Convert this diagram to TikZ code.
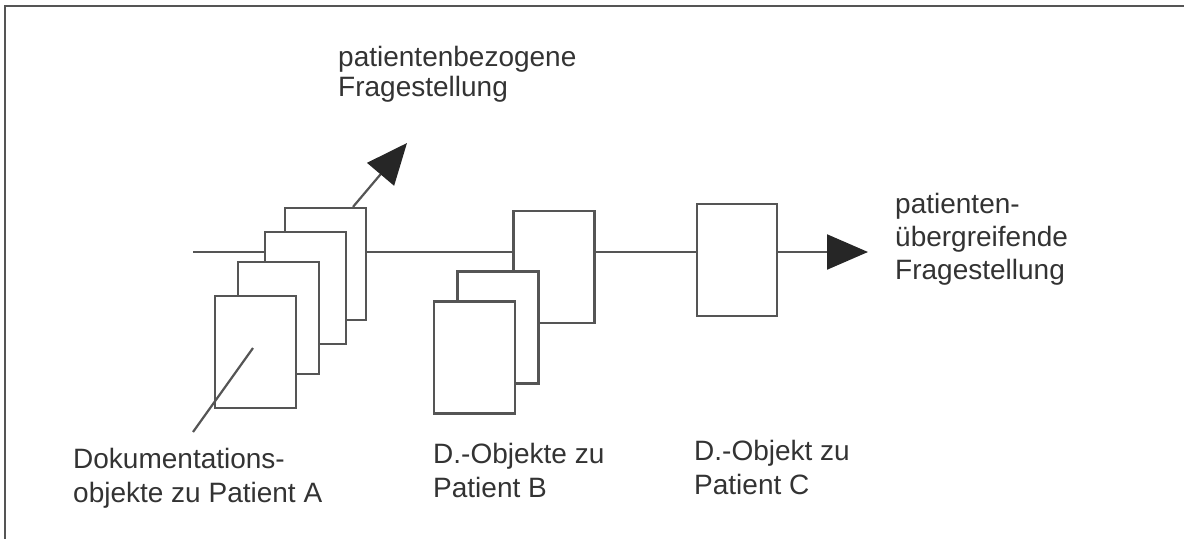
\documentclass[tikz,border=0pt]{standalone}
\usepackage{fontspec}
\setmainfont{Liberation Sans}
\usetikzlibrary{arrows.meta,calc}
\definecolor{linegray}{HTML}{555555}
\definecolor{textgray}{HTML}{333333}
\definecolor{headgray}{HTML}{262626}
\begin{document}
\begin{tikzpicture}[x=1pt,y=-1pt,
  doc/.style={draw=linegray, line width=2.2pt, fill=white, minimum width=81pt, minimum height=112pt, inner sep=0pt},
  conn/.style={draw=linegray, line width=2.2pt},
  bigarrow/.style={conn, -{Triangle[length=41pt,width=35pt,color=headgray,fill=headgray]}},
  lbl/.style={anchor=base west, inner sep=0pt, align=left, text=textgray, font=\fontsize{28}{34}\selectfont},
  frame/.style={draw=linegray, line width=2pt}]
\useasboundingbox (0,0) rectangle (1184,539);
% frame
\coordinate (fc) at (5,6);
\coordinate (fr) at (1184,6);
\coordinate (fb) at (5,539);
\draw[frame] (fr) -- (fc) -- (fb);
% documents of patient A (back to front)
\node[doc] (a4) at (325.5,264) {};
\node[doc] (a3) at (305.5,288) {};
\node[doc] (a2) at (278.5,318) {};
\node[doc] (a1) at (255.5,352) {};
% documents of patient B
\node[doc] (b3) at (554,267) {};
\node[doc] (b2) at (498,327.5) {};
\node[doc] (b1) at (474.5,357.5) {};
% document of patient C
\node[doc, minimum width=80pt] (c) at (737,260) {};
% horizontal connectors
\coordinate (lstart) at (193,252);
\coordinate (tipR) at (868,252);
\draw[conn] (lstart) -- (a3.west |- lstart);
\draw[conn] (a4.east |- lstart) -- (b3.west |- lstart);
\draw[conn] (b3.east |- lstart) -- (c.west |- lstart);
\draw[bigarrow] (c.east |- lstart) -- (tipR);
% upward arrow
\coordinate (tipU) at (407,143);
\draw[bigarrow] ([xshift=27.5pt]a4.north) -- (tipU);
% pointer line
\coordinate (pA) at (193,432);
\draw[conn] ([shift={(-2.5,-4)}]a1.center) -- (pA);
% labels (base anchor = baseline of last line)
\node[lbl, font=\fontsize{28}{30}\selectfont] (t1) at (338,96) {patientenbezogene\\Fragestellung};
\node[lbl, font=\fontsize{28}{33}\selectfont] (t2) at (895,279) {patienten-\\übergreifende\\Fragestellung};
\node[lbl] (t3) at (73,502) {Dokumentations-\\objekte zu Patient A};
\node[lbl] (t4) at (433,497) {D.-Objekte zu\\Patient B};
\node[lbl] (t5) at (694,494) {D.-Objekt zu\\Patient C};
\end{tikzpicture}
\end{document}
